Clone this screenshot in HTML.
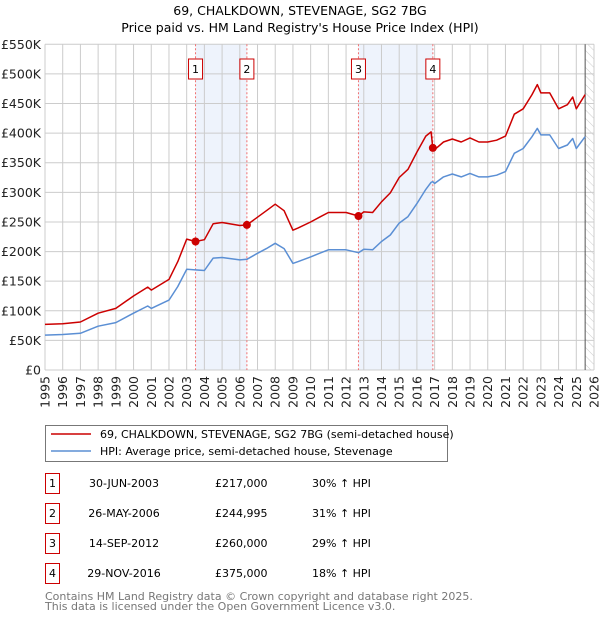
<!DOCTYPE html>
<html><head><meta charset="utf-8"><style>
body{margin:0;background:#fff;font-family:"DejaVu Sans","Liberation Sans",sans-serif;}
svg{display:block}
</style></head><body>
<svg id="c" width="600" height="620" xmlns="http://www.w3.org/2000/svg" font-family="DejaVu Sans, Liberation Sans, sans-serif"></svg>
<script>
const hpiYears=[1995,1996,1997,1998,1999,2000,2000.8,2001,2002,2002.5,2003,2003.5,2004,2004.5,2005,2006,2006.4,2007,2007.5,2008,2008.5,2009,2009.3,2010,2010.5,2011,2012,2012.7,2013,2013.5,2014,2014.5,2015,2015.5,2016,2016.5,2016.8,2016.9,2017,2017.5,2018,2018.5,2019,2019.5,2020,2020.5,2021,2021.5,2022,2022.5,2022.8,2023,2023.5,2024,2024.5,2024.8,2025,2025.5];
const hpiValues=[59,60,62,74,80,96,108,104,118,141,170,169,168,189,190,186,187,197,205,214,205,180,183,191,197,203,203,198,204,203,217,228,248,259,281,305,317,318,315,326,331,326,332,326,326,329,335,366,374,394,408,397,397,374,380,391,374,394];
const redValues=[77,78,81,96,104,125,140,135,153,183,221,217,220,247,249,244,245,258,269,280,269,236,240,250,258,266,266,260,267,266,284,299,325,339,368,395,402,375,372,385,390,385,392,385,385,388,395,432,441,465,482,468,468,441,448,461,441,465];
const saleYears=[2003.5,2006.4,2012.7,2016.9];
const salePrices=[217,244.995,260,375];
const saleLabels=["1","2","3","4"];
const saleDates=["30-JUN-2003","26-MAY-2006","14-SEP-2012","29-NOV-2016"];
const salePriceText=["£217,000","£244,995","£260,000","£375,000"];
const salePct=["30% ↑ HPI","31% ↑ HPI","29% ↑ HPI","18% ↑ HPI"];
const yTicks=[0,50,100,150,200,250,300,350,400,450,500,550];
const yTickLabels=["£0","£50K","£100K","£150K","£200K","£250K","£300K","£350K","£400K","£450K","£500K","£550K"];
const xTicks=[1995,1996,1997,1998,1999,2000,2001,2002,2003,2004,2005,2006,2007,2008,2009,2010,2011,2012,2013,2014,2015,2016,2017,2018,2019,2020,2021,2022,2023,2024,2025,2026];

const svg=document.getElementById('c');
const NS='http://www.w3.org/2000/svg';
const X0=45,X1=594,Y0=370,Y1=44.3;
const xs=y=>X0+(y-1995)/31*(X1-X0);
const ys=v=>Y0-v/550*(Y0-Y1);
function el(t,a,txt){const e=document.createElementNS(NS,t);for(const k in a)e.setAttribute(k,a[k]);if(txt!==undefined)e.textContent=txt;svg.appendChild(e);return e;}

// title
let t=el('text',{x:300,y:15,'text-anchor':'middle','font-size':'12.5'},"69, CHALKDOWN, STEVENAGE, SG2 7BG");


t=el('text',{x:300,y:32,'text-anchor':'middle','font-size':'12.5'},"Price paid vs. HM Land Registry's House Price Index (HPI)");



// shaded regions
for(let i=0;i<4;i+=2){
  const r=el('rect',{x:xs(saleYears[i]),y:Y1,width:xs(saleYears[i+1])-xs(saleYears[i]),height:Y0-Y1,fill:'#eef3fc'});
  
  
}
// hatched future
const defs=el('defs',{});
defs.innerHTML='<pattern id="h" width="6" height="6" patternUnits="userSpaceOnUse" patternTransform="rotate(-45)"><line x1="0" y1="0" x2="0" y2="6" stroke="#ccc" stroke-width="1"/></pattern>';
let hz=el('rect',{x:xs(2025.5),y:Y1,width:X1-xs(2025.5),height:Y0-Y1,fill:'url(#h)'});



// grid
yTicks.forEach((v,i)=>{
  const l=el('line',{x1:X0,x2:X1,y1:ys(v),y2:ys(v),stroke:'#ccc','stroke-width':1});
  
  
  const tx=el('text',{x:X0-4,y:ys(v)+4.5,'text-anchor':'end','font-size':'12.5',fill:'#222'},yTickLabels[i]);
  
  
});
xTicks.forEach(y=>{
  const l=el('line',{x1:xs(y),x2:xs(y),y1:Y1,y2:Y0,stroke:'#ccc','stroke-width':1});
  
  
  const tx=el('text',{x:0,y:0,'text-anchor':'end','font-size':'12.5',fill:'#222',transform:`translate(${xs(y)+4.5},${Y0+6}) rotate(-90)`},String(y));
  
  
});
let vl=el('line',{x1:xs(2025.5),x2:xs(2025.5),y1:Y1,y2:Y0,stroke:'#555','stroke-width':1});



// sale vertical lines and labels
saleYears.forEach((y,i)=>{
  const l=el('line',{x1:xs(y),x2:xs(y),y1:Y1,y2:Y0,stroke:'#f07070','stroke-width':1,'stroke-dasharray':'2,2'});
  
  
  const b=el('rect',{x:xs(y)-7,y:59,width:14,height:20,fill:'#fff',stroke:'#c00','stroke-width':1});
  
  
  const tx=el('text',{x:xs(y),y:73,'text-anchor':'middle','font-size':'11'},saleLabels[i]);
  
  
});

function path(vals,color,name){
  const d=hpiYears.map((y,i)=>(i?'L':'M')+xs(y).toFixed(1)+','+ys(vals[i]).toFixed(1)).join('');
  const p=el('path',{d,fill:'none',stroke:color,'stroke-width':1.5,'stroke-linejoin':'round'});
  
  
}
path(hpiValues,'#5b8fd4','hpi-line');
path(redValues,'#cc0000','price-paid-line');
saleYears.forEach((y,i)=>{
  const c=el('circle',{cx:xs(y),cy:ys(salePrices[i]),r:4,fill:'#cc0000'});
  
  
});

// legend
let lg=el('rect',{x:45.5,y:425.5,width:402,height:36,fill:'#fff',stroke:'#777','stroke-width':1});


let ll=el('line',{x1:51,x2:91,y1:434,y2:434,stroke:'#cc0000','stroke-width':1.5});


ll=el('line',{x1:51,x2:91,y1:451,y2:451,stroke:'#5b8fd4','stroke-width':1.5});


t=el('text',{x:100,y:438,'font-size':'11'},"69, CHALKDOWN, STEVENAGE, SG2 7BG (semi-detached house)");


t=el('text',{x:100,y:455,'font-size':'11'},"HPI: Average price, semi-detached house, Stevenage");



// table
saleLabels.forEach((lab,i)=>{
  const cy=483+i*30;
  const b=el('rect',{x:45.5,y:cy-9.5,width:14,height:20,fill:'#fff',stroke:'#c00','stroke-width':1});
  
  
  let tx=el('text',{x:52.5,y:cy+4,'text-anchor':'middle','font-size':'11'},lab);
  
  
  tx=el('text',{x:124,y:cy+4,'text-anchor':'middle','font-size':'11'},saleDates[i]);
  
  
  tx=el('text',{x:215,y:cy+4,'font-size':'11'},salePriceText[i]);
  
  
  tx=el('text',{x:312,y:cy+4,'font-size':'11'},salePct[i]);
  
  
});
t=el('text',{x:45,y:600,'font-size':'11',fill:'#777'},"Contains HM Land Registry data © Crown copyright and database right 2025.");


t=el('text',{x:45,y:610,'font-size':'11',fill:'#777'},"This data is licensed under the Open Government Licence v3.0.");


</script>
</body></html>
